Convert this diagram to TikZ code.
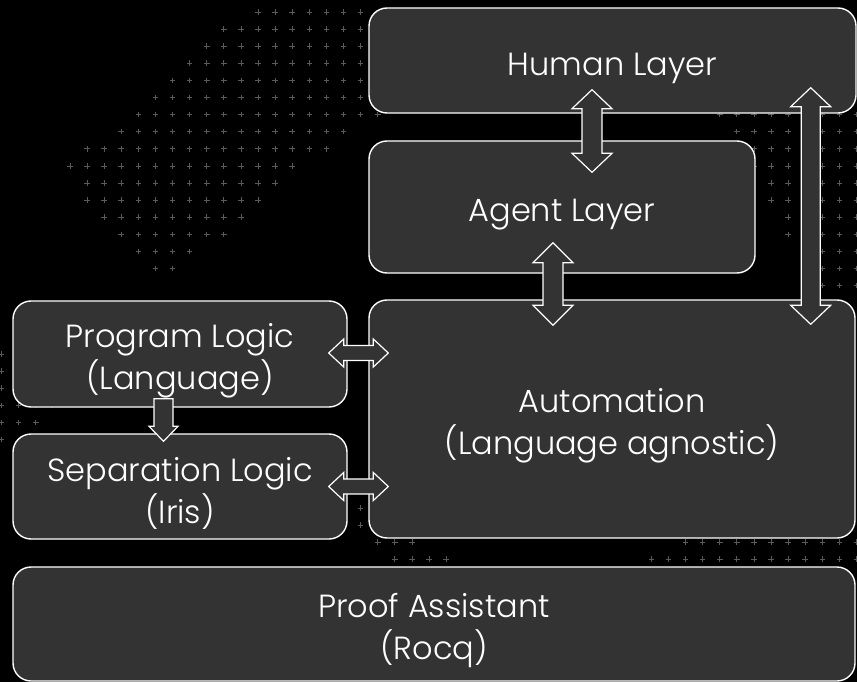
\documentclass[tikz,border=0pt]{standalone}
\usepackage{fontspec}
\setmainfont{Poppins}[UprightFont=* Light]
\usetikzlibrary{calc}

\definecolor{boxgray}{HTML}{333333}
\definecolor{gridgray}{HTML}{5A5A5A}

\newcommand{\topstrut}{\rule{0pt}{38pt}}
\newcommand{\dblarrow}[5]{%
  \draw[blockarrow] (#1) -- ($(#1)!#3!(#2)!#4!90:(#2)$) -- ($(#1)!#3!(#2)!#5!90:(#2)$)
    -- ($(#2)!#3!(#1)!#5!-90:(#1)$) -- ($(#2)!#3!(#1)!#4!-90:(#1)$) -- (#2)
    -- ($(#2)!#3!(#1)!#4!90:(#1)$) -- ($(#2)!#3!(#1)!#5!90:(#1)$)
    -- ($(#1)!#3!(#2)!#5!-90:(#2)$) -- ($(#1)!#3!(#2)!#4!-90:(#2)$) -- cycle;}
\newcommand{\sglarrow}[5]{%
  \draw[blockarrow] ($(#1)!#5!90:(#2)$) -- ($(#2)!#3!(#1)!#5!-90:(#1)$)
    -- ($(#2)!#3!(#1)!#4!-90:(#1)$) -- (#2) -- ($(#2)!#3!(#1)!#4!90:(#1)$)
    -- ($(#2)!#3!(#1)!#5!90:(#1)$) -- ($(#1)!#5!-90:(#2)$) -- cycle;}

\begin{document}
\begin{tikzpicture}[x=1pt,y=-1pt,
	box/.style={draw=white,line width=1.4pt,fill=boxgray,rounded corners=18pt,text=white,align=center,inner sep=0pt,
		font=\fontsize{32}{42}\selectfont},
	blockarrow/.style={draw=white,line width=1.2pt,fill=boxgray,line join=miter},
	plusmark/.style={gridgray,line width=0.7pt}]
	\fill[black] (0,0) rectangle (857,682);
	\useasboundingbox (0,0) rectangle (857,682);
	\clip (0,0) rectangle (857,682);
	
	\foreach \r/\a/\b in {0/15/21,1/13/21,2/12/21,3/11/21,4/10/21,5/9/21,6/8/22,7/7/20,8/5/19,9/4/17,10/5/16,11/5/15,12/6/14,13/7/13,14/8/11,15/9/10,
		6/42/50,7/43/50,8/44/50,9/44/50,10/45/50,11/45/50,12/46/50,13/46/50,14/48/50,15/48/50,16/48/50,
		20/0/0,21/0/0,22/0/0,23/0/3,24/0/2,25/0/0,29/21/21,30/21/21,31/22/24,31/40/50,32/23/26,32/38/50}
		\foreach \c in {\a,...,\b}
			\draw[plusmark] (1.5+17.1*\c-2.8,12+17.1*\r) -- ++(5.6,0) (1.5+17.1*\c,12+17.1*\r-2.8) -- ++(0,5.6);
	
	\node[box,minimum width=487pt,minimum height=105pt] (hum) at (612.5,60.5) {\topstrut Human Layer};
	\node[box,minimum width=386pt,minimum height=132pt] (agent) at (562,207) {\topstrut Agent Layer};
	\node[box,minimum width=486pt,minimum height=238pt] (auto) at (612,419) {\topstrut Automation\\(Language agnostic)};
	\node[box,minimum width=334pt,minimum height=106pt] (prog) at (180,354) {\topstrut Program Logic\\(Language)};
	\node[box,minimum width=334pt,minimum height=105pt] (sep) at (180,486.5) {\topstrut Separation Logic\\(Iris)};
	\node[box,minimum width=842pt,minimum height=114pt] (proof) at (434,624) {\topstrut Proof Assistant\\(Rocq)};
	
	\coordinate (ha1) at ($(hum.south)+(-20.5,-24)$);
	\coordinate (ha2) at ($(agent.north)+(30,32)$);
	\coordinate (aa1) at ($(agent.south)+(-9,-31)$);
	\coordinate (aa2) at ($(auto.north)+(-59,26)$);
	\coordinate (hr1) at ($(hum.south east)+(-46,-26)$);
	\coordinate (hr2) at ($(auto.north east)+(-45,25)$);
	\coordinate (pa1) at ($(prog.east)+(-19,-1)$);
	\coordinate (pa2) at ($(auto.west|-pa1)+(20,0)$);
	\coordinate (sa1) at ($(sep.east)+(-19,0)$);
	\coordinate (sa2) at ($(auto.west|-sa1)+(20,0)$);
	\coordinate (ps1) at ($(prog.south)+(-16.5,-9)$);
	\coordinate (ps2) at ($(sep.north)+(-16.5,8)$);
	
	\dblarrow{ha1}{ha2}{19pt}{20pt}{10pt}
	\dblarrow{aa1}{aa2}{20pt}{20pt}{10pt}
	\dblarrow{hr1}{hr2}{19pt}{20pt}{9.5pt}
	\dblarrow{pa1}{pa2}{15pt}{14pt}{7.5pt}
	\dblarrow{sa1}{sa2}{15pt}{14pt}{7.5pt}
	\sglarrow{ps1}{ps2}{15pt}{14.5pt}{9.5pt}
\end{tikzpicture}
\end{document}
